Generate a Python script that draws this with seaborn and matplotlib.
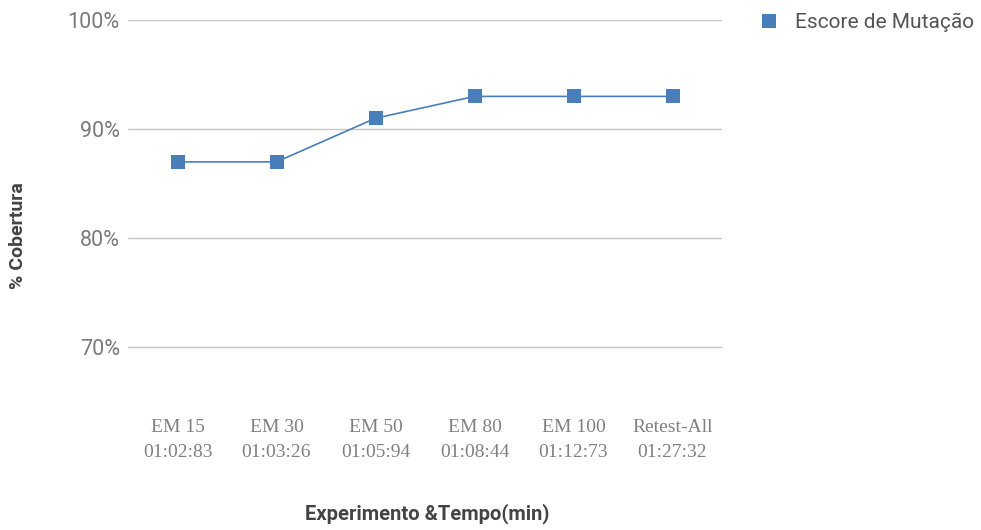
import matplotlib
matplotlib.use("Agg")
import matplotlib.pyplot as plt
import seaborn as sns
import pandas as pd
from matplotlib.lines import Line2D

experiments = ["EM 15", "EM 30", "EM 50", "EM 80", "EM 100", "Retest-All"]
times = ["01:02:83", "01:03:26", "01:05:94", "01:08:44", "01:12:73", "01:27:32"]
mutation_score = [87, 87, 91, 93, 93, 93]
y_ticks = [70, 80, 90, 100]
series_name = "Escore de Mutação"

df = pd.DataFrame({"pos": range(len(experiments)), "score": mutation_score})

sns.set_style("white")
plt.rcParams["font.family"] = ["Roboto", "DejaVu Sans"]

blue = "#4a7ebb"
fig = plt.figure(figsize=(9.81, 5.30), dpi=100)
# axes box: x 128..722 px, y 20..402 px
ax = fig.add_axes([128 / 981, 1 - 402 / 530, 594 / 981, 382 / 530])

sns.lineplot(data=df, x="pos", y="score", ax=ax, color=blue, linewidth=1.2,
             marker="s", markersize=10, markeredgewidth=0, markerfacecolor=blue,
             zorder=3)
ax.set_xlabel("")
ax.set_ylabel("")

ax.set_xlim(-0.5, len(experiments) - 0.5)
ax.set_ylim(65, 100)
ax.set_yticks(y_ticks)
ax.set_yticklabels([f"{v}%" for v in y_ticks], color="#7a7a7a", fontsize=15.5)
for v in y_ticks:
    ax.axhline(v, color="#c6c6c6", linewidth=1, zorder=1)
ax.tick_params(axis="y", length=0, pad=6)

ax.set_xticks(range(len(experiments)))
ax.set_xticklabels([f"{e}\n{t}" for e, t in zip(experiments, times)],
                   family="Liberation Serif", color="#808080", fontsize=14,
                   linespacing=1.65)
ax.tick_params(axis="x", length=0, pad=12)

for s in ax.spines.values():
    s.set_visible(False)
ax.grid(False)

# axis titles placed in figure pixel coordinates
fig.text(427 / 981, 1 - 514 / 530, "Experimento &Tempo(min)", fontsize=14.5,
         fontweight="bold", color="#444444", ha="center", va="center")
fig.text(18 / 981, 1 - 236 / 530, "% Cobertura", fontsize=14, rotation=90,
         fontweight="bold", color="#444444", ha="center", va="center")

handle = Line2D([], [], linestyle="none", marker="s", markersize=10,
                markerfacecolor=blue, markeredgewidth=0)
fig.legend([handle], [series_name], loc="upper left",
           bbox_to_anchor=(740 / 981, 1 + 6 / 530), frameon=False,
           fontsize=15, handlelength=1.0, handletextpad=0.75,
           labelcolor="#555555")

fig.savefig("out.png", dpi=100)
